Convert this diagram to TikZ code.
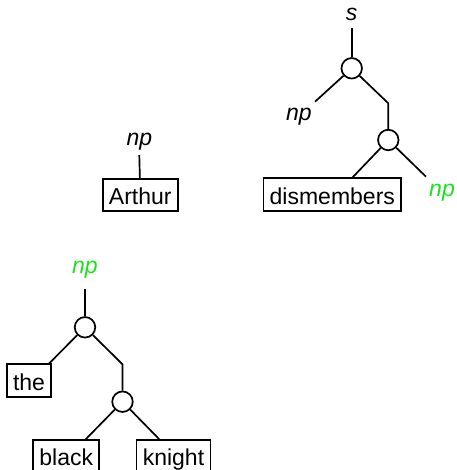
\documentclass[tikz,border=0pt]{standalone}
\usepackage{fontspec}
\setmainfont{Liberation Sans}
\definecolor{catgreen}{RGB}{30,225,30}
\begin{document}
\begin{tikzpicture}[x=1pt,y=-1pt,
  every node/.style={font=\fontsize{23}{27}\selectfont},
  lw/.style={line width=1.7pt},
  cat/.style={inner sep=0pt,font=\fontsize{23}{27}\selectfont\itshape},
  gcat/.style={cat,text=catgreen},
  joint/.style={circle,draw,lw,minimum size=20.5pt,inner sep=0pt},
  word/.style={draw,lw,inner xsep=6.2pt,inner ysep=0pt,minimum height=32.4pt,text height=19.5pt,text depth=0pt}]
\useasboundingbox (0,0) rectangle (456,470);
\clip (0,0) rectangle (456,470);
% Arthur
\node[cat] (npA) at (139.3,141.7) {np};
\coordinate (npAb) at (139.3,155);
\node[word] (arthur) at (140.3,195) {Arthur};
\draw[lw] (npAb) -- (arthur);
% dismembers tree
\node[cat] (s) at (351.7,14.5) {s};
\coordinate (sb) at (351.7,28);
\node[joint] (c1) at (351.7,68.3) {};
\node[cat] (np1) at (298.8,116.7) {np};
\coordinate (np1t) at (315,101.7);
\coordinate (k1) at (388.3,103.3);
\node[joint] (c2) at (388.3,140) {};
\node[word] (dism) at (332.3,194.5) {dismembers};
\coordinate (dismt) at (351.7,178.3);
\node[gcat] (np2) at (442,193) {np};
\coordinate (np2t) at (426,176.7);
\draw[lw] (sb) -- (c1);
\draw[lw] (c1) -- (np1t);
\draw[lw] (c1) -- (k1) -- (c2);
\draw[lw] (c2) -- (dismt);
\draw[lw] (c2) -- (np2t);
% the black knight tree
\node[gcat] (np3) at (85,270) {np};
\coordinate (np3b) at (85,289);
\node[joint] (c3) at (85,327.3) {};
\node[word] (the) at (29,380.5) {the};
\coordinate (thet) at (48.3,364.3);
\coordinate (k2) at (122.5,364.3);
\node[joint] (c4) at (122.5,401.7) {};
\node[word] (black) at (66.3,456.2) {black};
\node[word] (knight) at (173.5,456.2) {knight};
\coordinate (blackt) at (85,440);
\coordinate (knightt) at (160,440);
\draw[lw] (np3b) -- (c3);
\draw[lw] (c3) -- (thet);
\draw[lw] (c3) -- (k2) -- (c4);
\draw[lw] (c4) -- (blackt);
\draw[lw] (c4) -- (knightt);
\end{tikzpicture}
\end{document}
